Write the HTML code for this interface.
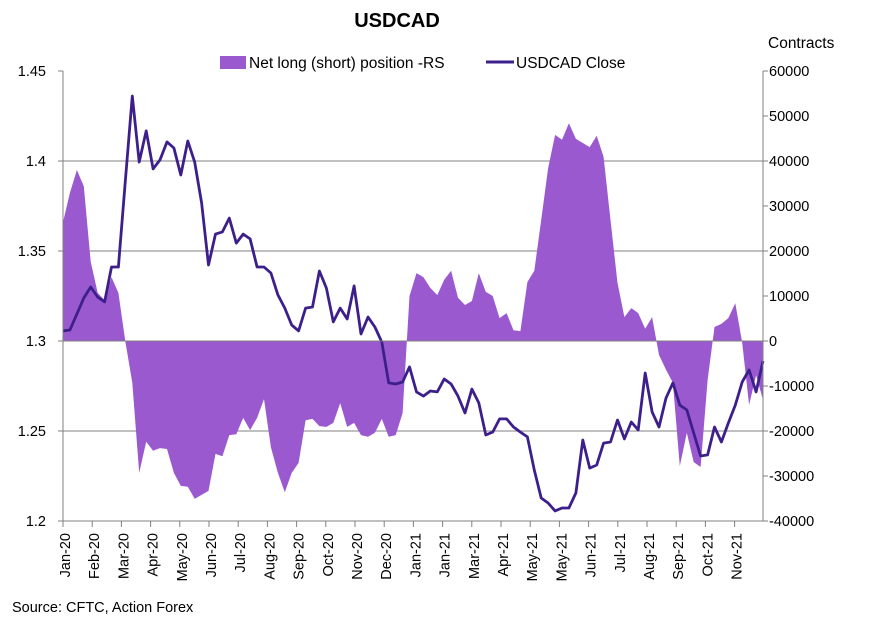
<!DOCTYPE html>
<html><head><meta charset="utf-8"><style>
body{margin:0;background:#fff;}
svg text{font-family:"Liberation Sans",Arial,sans-serif;fill:#000;}
</style></head><body>
<svg id="chart" width="874" height="624" xmlns="http://www.w3.org/2000/svg">
<text x="397" y="27" text-anchor="middle" font-size="20" font-weight="bold">USDCAD</text>
<text x="768" y="48" font-size="15.5">Contracts</text>
<g>
<rect x="220" y="56" width="26" height="13" fill="#9b59d0"/>
<text x="249" y="68" font-size="15.5">Net long (short) position -RS</text>
<line x1="486" y1="62" x2="514" y2="62" stroke="#3d1f8c" stroke-width="3"/>
<text x="516" y="68" font-size="15.5">USDCAD Close</text>
</g>
<g id="grid"></g>
<g id="area"></g>
<g id="line"></g>
<g id="axes"></g>
<text x="12" y="612" font-size="14.5">Source: CFTC, Action Forex</text>
</svg>
<script>
const closeValues=[1.3056,1.3061,1.315,1.3239,1.33,1.3244,1.3217,1.3411,1.3411,1.3894,
1.4361,1.3994,1.4167,1.3956,1.4006,1.4106,1.4072,1.3922,1.4111,1.3994,
1.3767,1.3422,1.3594,1.3606,1.3683,1.3544,1.3594,1.3567,1.3411,1.3411,
1.3378,1.3256,1.3183,1.3089,1.3056,1.3183,1.3189,1.3389,1.3294,1.3106,
1.3183,1.3122,1.3306,1.3039,1.3133,1.3078,1.2994,1.2767,1.2761,1.2772,
1.2856,1.2717,1.2694,1.2722,1.2717,1.2789,1.2761,1.2694,1.26,1.2733,
1.2656,1.2478,1.2494,1.2567,1.2567,1.2522,1.2494,1.2467,1.2283,1.2128,
1.21,1.2056,1.2072,1.2072,1.2156,1.245,1.2294,1.2311,1.2433,1.2439,
1.2561,1.2456,1.255,1.2506,1.2822,1.2606,1.2522,1.2683,1.2767,1.2644,
1.2617,1.2489,1.2361,1.2367,1.2522,1.2439,1.2544,1.2644,1.2772,1.2839,
1.2717,1.2889];
const positionValues=[26400,32900,38000,34400,17600,10700,9100,14200,10700,-200,
-9300,-29300,-22400,-24400,-23800,-24000,-29300,-32200,-32400,-35100,
-34200,-33300,-25100,-25600,-20900,-20700,-17100,-19800,-17100,-12900,
-23600,-29300,-33600,-29300,-27100,-17600,-17300,-18900,-19100,-18200,
-13800,-19100,-18200,-20900,-21300,-20400,-17300,-21300,-20900,-16000,
10000,15100,14200,11800,10200,13600,15600,9600,8000,8900,
15100,10900,10000,5100,6200,2400,2200,13100,15600,26900,
38400,45800,44700,48400,44900,44000,43100,45600,40900,26900,
12900,5300,7300,6200,2700,5300,-3100,-6400,-9300,-27800,
-20400,-26900,-28000,-8700,3100,3800,5100,8400,-400,-14200,
-7600,-13100];
const monthLabels=["Jan-20","Feb-20","Mar-20","Apr-20","May-20","Jun-20","Jul-20","Aug-20","Sep-20","Oct-20","Nov-20","Dec-20","Jan-21","Jan-21","Mar-21","Apr-21","May-21","May-21","Jun-21","Jul-21","Aug-21","Sep-21","Oct-21","Nov-21"];
const leftTicks=[1.2,1.25,1.3,1.35,1.4,1.45];
const rightTicks=[-40000,-30000,-20000,-10000,0,10000,20000,30000,40000,50000,60000];

const NS="http://www.w3.org/2000/svg";
const X0=63,X1=763,Y0=71,Y1=521;
const xs=i=>X0+i*(X1-X0)/(closeValues.length-1);
const yL=v=>Y0+(1.45-v)/(1.45-1.2)*(Y1-Y0);
const yR=v=>Y0+(60000-v)/100000*(Y1-Y0);
function mk(tag,attrs,parent){const e=document.createElementNS(NS,tag);for(const k in attrs)e.setAttribute(k,attrs[k]);parent.appendChild(e);return e;}
const grid=document.getElementById('grid'),area=document.getElementById('area'),line=document.getElementById('line'),axes=document.getElementById('axes');

leftTicks.forEach(t=>{
  if(t>1.2&&t<1.45){const g=mk('line',{x1:X0,x2:X1,y1:yL(t),y2:yL(t),stroke:'#808080','stroke-width':1},grid);
  
  }
  const tx=mk('text',{x:46,y:yL(t)+5,'text-anchor':'end','font-size':14.5},axes);
  tx.textContent=String(t);
  
  
});
rightTicks.forEach(t=>{
  const tx=mk('text',{x:769,y:yR(t)+5,'font-size':14.5},axes);
  tx.textContent=String(t);
  
  
  const tk=mk('line',{x1:X1,x2:X1+5,y1:yR(t),y2:yR(t),stroke:'#808080'},axes);
  
  
});

let d='M'+xs(0)+','+yR(0);
positionValues.forEach((v,i)=>{d+=' L'+xs(i).toFixed(1)+','+yR(v).toFixed(1);});
d+=' L'+xs(positionValues.length-1)+','+yR(0)+' Z';
const ar=mk('path',{d:d,fill:'#9b59d0',stroke:'none'},area);



const pts=closeValues.map((v,i)=>xs(i).toFixed(1)+','+yL(v).toFixed(1)).join(' ');
const pl=mk('polyline',{points:pts,fill:'none',stroke:'#3d1f8c','stroke-width':2.8,'stroke-linejoin':'round'},line);



const zl=mk('line',{x1:X0,x2:X1,y1:yR(0),y2:yR(0),stroke:'#808080'},axes);


const la=mk('line',{x1:X0,x2:X0,y1:Y0,y2:Y1,stroke:'#808080'},axes);


const ra=mk('line',{x1:X1,x2:X1,y1:Y0,y2:Y1,stroke:'#808080'},axes);


const ba=mk('line',{x1:X0,x2:X1,y1:Y1,y2:Y1,stroke:'#808080'},axes);


leftTicks.forEach(t=>{const tk=mk('line',{x1:X0-5,x2:X0,y1:yL(t),y2:yL(t),stroke:'#808080'},axes);

});

const step=29.2;
monthLabels.forEach((m,i)=>{
  const x=X0+i*step;
  const tk=mk('line',{x1:x,x2:x,y1:Y1,y2:Y1+6,stroke:'#808080'},axes);
  
  
  const tx=mk('text',{x:0,y:0,'text-anchor':'end','font-size':14.5,transform:'translate('+(x+7)+',533) rotate(-90)'},axes);
  tx.textContent=m;
  
  
});
</script>
</body></html>
